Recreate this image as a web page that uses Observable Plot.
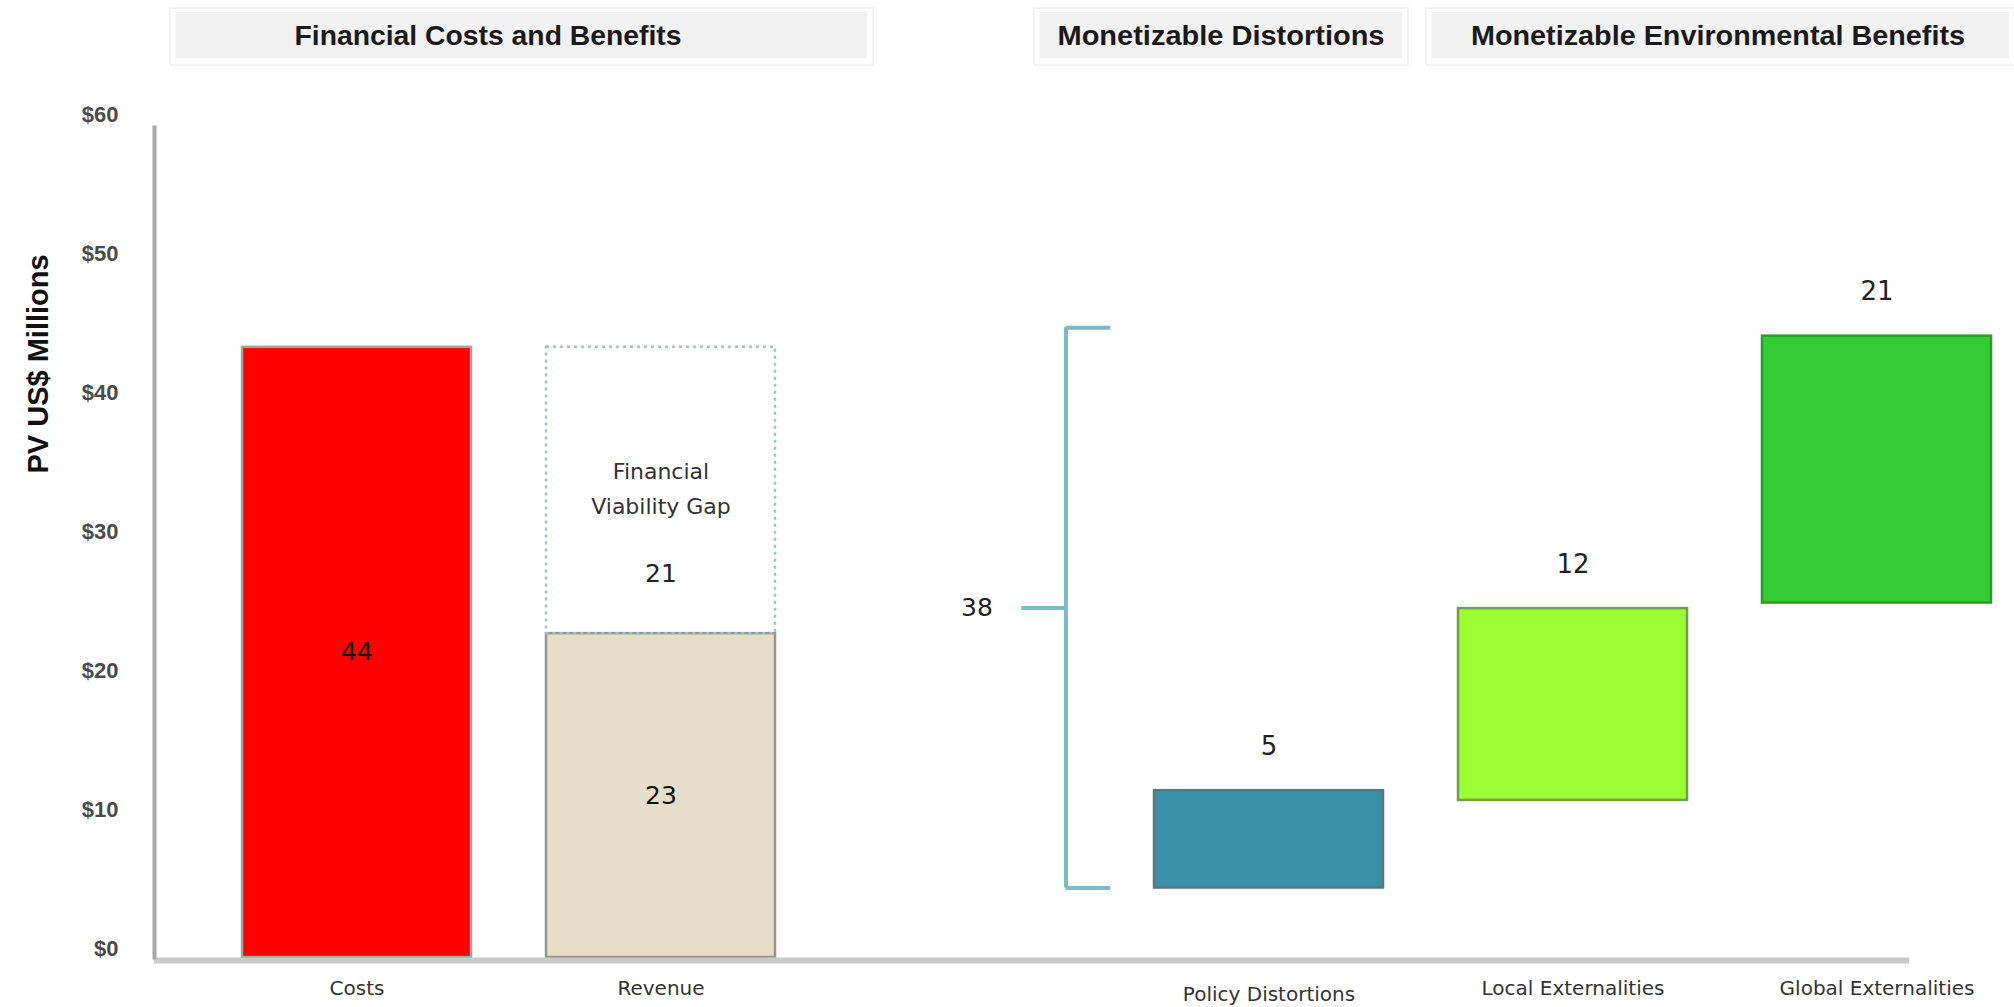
<!DOCTYPE html>
<html>
<head>
<meta charset="utf-8">
<script src="https://cdn.jsdelivr.net/npm/d3@7"></script>
<script src="https://cdn.jsdelivr.net/npm/@observablehq/plot@0.6"></script>
<style>
  html, body { margin: 0; padding: 0; background: #fff; overflow: hidden; }
  #chart { position: relative; width: 2014px; height: 1007px; }
</style>
</head>
<body>
<div id="chart"></div>
<script>
// ---------------- data ----------------
const categories = ["Costs", "Revenue", "Policy Distortions", "Local Externalities", "Global Externalities"];
const barLow = [0, 0, 5.0, 11.3, 25.5];
const barHigh = [43.9, 23.3, 12.0, 25.1, 44.7];
const barLabels = ["44", "23", "5", "12", "21"];

const gapCategory = "Revenue";
const gapLow = 23.3;
const gapHigh = 43.9;
const gapTitle = "Financial\nViability Gap";
const gapLabel = "21";

const bracketLow = 5.0;
const bracketHigh = 45.3;
const bracketLabel = "38";

const yTicks = [0, 10, 20, 30, 40, 50, 60];
const yTitle = "PV US$ Millions";
const groupTitles = ["Financial Costs and Benefits", "Monetizable Distortions", "Monetizable Environmental Benefits"];

// ---------------- styles ----------------
const barFills = ["#fe0000", "#e6dec8", "#3a90a6", "#9afe33", "#33cc33"];
const barStrokes = ["#a3a3a3", "#9a958b", "#56797f", "#739f48", "#2b9c2b"];
const bracketColor = "#7db9c9";

// ---------------- derived tables ----------------
const spacer = " ";
const xDomain = [categories[0], categories[1], spacer, categories[2], categories[3], categories[4]];
const bars = categories.map((c, i) => ({cat: c, low: barLow[i], high: barHigh[i], label: barLabels[i], fill: barFills[i], stroke: barStrokes[i]}));
const gap = [{cat: gapCategory, low: gapLow, high: gapHigh}];
const bracket = [{cat: spacer, low: bracketLow, high: bracketHigh, mid: (bracketLow + bracketHigh) / 2, label: bracketLabel}];

const valueFont = "DejaVu Sans, Verdana, sans-serif";
const sansFont = "Liberation Sans, Arial, sans-serif";

const plot = Plot.plot({
  width: 2014,
  height: 1007,
  marginLeft: 154,
  marginRight: 105,
  marginTop: 123,
  marginBottom: 50,
  x: {type: "band", domain: xDomain, range: [202.6, 2030.8], paddingInner: 0.248, paddingOuter: 0.124, align: 0.5, axis: null},
  y: {domain: [0, 60], axis: null},
  style: {background: "white", fontFamily: valueFont},
  marks: [
    // bars
    Plot.barY(bars, {x: "cat", y1: "low", y2: "high", fill: d => d.fill, stroke: d => d.stroke, strokeWidth: 2.5}),
    // financial viability gap (dotted)
    Plot.barY(gap, {x: "cat", y1: "low", y2: "high", fill: "none", stroke: "#9fc3cc", strokeWidth: 2.5, strokeDasharray: "3,4"}),
    Plot.text(gap, {x: "cat", y: d => (d.low + d.high) / 2, text: () => gapTitle, lineHeight: 1.6, dy: -5, fontSize: 22, fill: "#333", fontFamily: valueFont}),
    Plot.text(gap, {x: "cat", y: d => (d.low + d.high) / 2, text: () => gapLabel, dy: 84, fontSize: 25, fill: "#222", fontFamily: valueFont}),
    // value labels
    Plot.text(bars.slice(0, 2), {x: "cat", y: d => (d.low + d.high) / 2, text: "label", fontSize: 25, fill: "#111", fontFamily: valueFont}),
    Plot.text(bars.slice(2), {x: "cat", y: "high", text: "label", dy: -44, fontSize: 26, fill: "#222", fontFamily: valueFont}),
    // bracket
    Plot.ruleX(bracket, {x: "cat", y1: "low", y2: "high", dx: 101, stroke: bracketColor, strokeWidth: 4}),
    Plot.tickY(bracket, {x: "cat", y: "high", dx: 31.4, insetLeft: 184, stroke: bracketColor, strokeWidth: 4}),
    Plot.tickY(bracket, {x: "cat", y: "low", dx: 31.4, insetLeft: 184, stroke: bracketColor, strokeWidth: 4}),
    Plot.tickY(bracket, {x: "cat", y: "mid", dx: -13.6, insetLeft: 185, stroke: bracketColor, strokeWidth: 4}),
    Plot.text(bracket, {x: "cat", y: "mid", text: "label", dx: 12, fontSize: 25, fill: "#222", fontFamily: valueFont}),
    // axis lines
    Plot.ruleY([0], {stroke: "#c9c9c9", strokeWidth: 6, dy: 3}),
    Plot.frame({anchor: "left", stroke: "#a8a8a8", strokeWidth: 4, insetTop: 4}),
    // y axis
    Plot.axisY({ticks: yTicks, tickFormat: d => "$" + d, tickSize: 0, tickPadding: 36, dy: -9, fontSize: 22, fontWeight: "bold", fill: "#4a4a4a", fontFamily: sansFont, label: null}),
    Plot.text([yTitle], {frameAnchor: "left", text: d => d, rotate: -90, dx: -116, dy: -67, fontSize: 29, fontWeight: "bold", fill: "#111", fontFamily: sansFont}),
    // x axis labels
    Plot.axisX({ticks: categories.filter(c => c !== "Policy Distortions"), tickSize: 0, tickPadding: 23, fontSize: 20, fill: "#333", fontFamily: valueFont, label: null}),
    Plot.axisX({ticks: ["Policy Distortions"], tickSize: 0, tickPadding: 29, fontSize: 20, fill: "#333", fontFamily: valueFont, label: null})
  ]
});

document.getElementById("chart").appendChild(plot);

// ---------------- group header boxes ----------------
const headerBoxes = [
  {x: 176, w: 691, tx: 488, tl: 387},
  {x: 1040, w: 362, tx: 1221, tl: 327},
  {x: 1432, w: 577, tx: 1718, tl: 494}
];
const svg = d3.select(plot);
const hg = svg.append("g").attr("class", "group-headers");
headerBoxes.forEach((b, i) => {
  hg.append("rect").attr("x", b.x - 6).attr("y", 8).attr("width", b.w + 12).attr("height", 57)
    .attr("fill", "none").attr("stroke", "#f3f3f3").attr("stroke-width", 2);
  hg.append("rect").attr("x", b.x).attr("y", 12).attr("width", b.w).attr("height", 46).attr("fill", "#f1f1f1");
  hg.append("text").attr("x", b.tx).attr("y", 45).attr("text-anchor", "middle")
    .attr("font-family", sansFont).attr("font-weight", "bold").attr("font-size", 27)
    .attr("fill", "#1a1a1a").attr("textLength", b.tl).attr("lengthAdjust", "spacingAndGlyphs")
    .text(groupTitles[i]);
});
</script>
</body>
</html>
